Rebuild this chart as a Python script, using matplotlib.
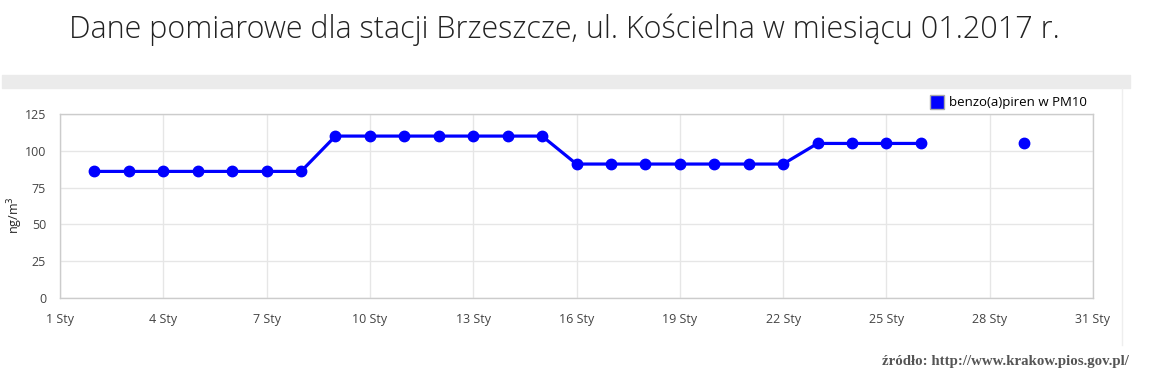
import matplotlib.pyplot as plt
from matplotlib.lines import Line2D
from matplotlib.patches import Rectangle
import numpy as np

# Dane
days = list(range(1, 32))
values = [np.nan, 86, 86, 86, 86, 86, 86, 86,
          110, 110, 110, 110, 110, 110, 110,
          91, 91, 91, 91, 91, 91, 91,
          105, 105, 105, 105, np.nan, np.nan, 105, np.nan, np.nan]
xticks = [1, 4, 7, 10, 13, 16, 19, 22, 25, 28, 31]
xtick_labels = [f'{d} Sty' for d in xticks]
yticks = [0, 25, 50, 75, 100, 125]

plt.rcParams['font.family'] = ['Open Sans', 'DejaVu Sans']

fig = plt.figure(figsize=(11.52, 3.91), dpi=100)
ax = fig.add_axes([60 / 1152, 1 - 298 / 391, 1033 / 1152, 184 / 391])

# szary pasek i linia z prawej
fig.patches.append(Rectangle((2 / 1152, 1 - 88 / 391), 1128 / 1152, 13 / 391,
                             transform=fig.transFigure, color='#ebebeb', zorder=0))
fig.add_artist(Line2D([1122 / 1152, 1122 / 1152], [1 - 88 / 391, 1 - 345 / 391],
                      transform=fig.transFigure, color='#eeeeee', linewidth=1))

ax.plot(days, values, color='#0000ff', linewidth=2.3, marker='o', markersize=7.5,
        clip_on=False, zorder=3)

ax.set_xlim(1, 31)
ax.set_ylim(0, 125)
ax.set_xticks(xticks)
ax.set_xticklabels(xtick_labels)
ax.set_yticks(yticks)
ax.tick_params(length=0, labelsize=9, colors='#444444')
ax.tick_params(axis='x', pad=11)
ax.tick_params(axis='y', pad=10)
ax.grid(True, color='#e6e6e6', linewidth=1)
ax.set_axisbelow(True)
for s in ax.spines.values():
    s.set_color('#cccccc')
    s.set_linewidth(1)

ax.set_ylabel('ng/m$^3$', fontsize=9, color='#222222')
ax.yaxis.set_label_coords(-0.034, 0.45)

handle = Line2D([], [], color='none', marker='s', markersize=10,
                markerfacecolor='#0000ff', markeredgecolor='#aaaaaa')
ax.legend([handle], ['benzo(a)piren w PM10'], loc='lower right',
          bbox_to_anchor=(1.0, 0.99), frameon=False, fontsize=9.5,
          handlelength=0.8, handletextpad=0.5, borderaxespad=0.1)

fig.text(0.49, 1 - 30 / 391, 'Dane pomiarowe dla stacji Brzeszcze, ul. Kościelna w miesiącu 01.2017 r.',
         ha='center', va='center', fontsize=22, fontweight='light', color='#222222')

fig.text(1129 / 1152, 1 - 362 / 391, 'źródło: http://www.krakow.pios.gov.pl/',
         ha='right', va='center', fontsize=10.7, fontweight='bold',
         family='Liberation Serif', color='#555555')

plt.savefig('out.png', dpi=100)
